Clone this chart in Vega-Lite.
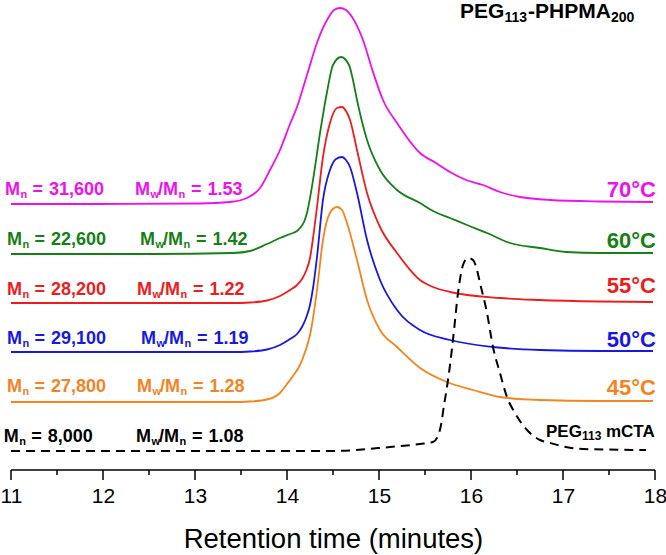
{
  "$schema": "https://vega.github.io/schema/vega-lite/v6.json",
  "width": 644,
  "height": 480,
  "autosize": {"type": "none"},
  "padding": {"left": 11, "right": 11, "top": 0, "bottom": 75},
  "config": {"view": {"stroke": null}, "font": "Liberation Sans"},
  "datasets": {
    "curves": [
      {"s":"70","t":11.0,"y":266},{"s":"70","t":11.967,"y":266},{"s":"70","t":13.054,"y":266.5},{"s":"70","t":13.38,"y":268},{"s":"70","t":13.565,"y":272},{"s":"70","t":13.707,"y":282},{"s":"70","t":13.815,"y":300},{"s":"70","t":13.924,"y":320},{"s":"70","t":14.033,"y":346},{"s":"70","t":14.109,"y":363},{"s":"70","t":14.217,"y":395},{"s":"70","t":14.337,"y":430},{"s":"70","t":14.435,"y":450},{"s":"70","t":14.511,"y":460},{"s":"70","t":14.576,"y":462},{"s":"70","t":14.641,"y":460},{"s":"70","t":14.707,"y":453},{"s":"70","t":14.826,"y":430},{"s":"70","t":14.935,"y":398},{"s":"70","t":15.043,"y":370},{"s":"70","t":15.196,"y":347},{"s":"70","t":15.446,"y":317},{"s":"70","t":15.62,"y":307},{"s":"70","t":15.772,"y":298},{"s":"70","t":15.946,"y":290},{"s":"70","t":16.13,"y":285},{"s":"70","t":16.315,"y":278},{"s":"70","t":16.533,"y":273},{"s":"70","t":16.859,"y":270},{"s":"70","t":17.402,"y":268.5},{"s":"70","t":17.978,"y":268},
      {"s":"60","t":11.0,"y":216},{"s":"60","t":12.511,"y":216},{"s":"60","t":13.413,"y":217},{"s":"60","t":13.598,"y":219},{"s":"60","t":13.783,"y":226},{"s":"60","t":13.924,"y":232},{"s":"60","t":14.033,"y":236},{"s":"60","t":14.109,"y":239},{"s":"60","t":14.141,"y":242},{"s":"60","t":14.185,"y":248},{"s":"60","t":14.217,"y":257},{"s":"60","t":14.25,"y":272},{"s":"60","t":14.283,"y":290},{"s":"60","t":14.359,"y":337},{"s":"60","t":14.435,"y":378},{"s":"60","t":14.5,"y":405},{"s":"60","t":14.587,"y":413},{"s":"60","t":14.674,"y":405},{"s":"60","t":14.717,"y":390},{"s":"60","t":14.761,"y":370},{"s":"60","t":14.87,"y":330},{"s":"60","t":15.011,"y":300},{"s":"60","t":15.196,"y":280},{"s":"60","t":15.446,"y":267},{"s":"60","t":15.587,"y":259},{"s":"60","t":15.772,"y":252},{"s":"60","t":15.957,"y":245},{"s":"60","t":16.174,"y":237},{"s":"60","t":16.424,"y":227},{"s":"60","t":16.75,"y":222},{"s":"60","t":17.033,"y":218},{"s":"60","t":17.402,"y":217},{"s":"60","t":17.978,"y":217},
      {"s":"55","t":11.0,"y":167},{"s":"55","t":13.413,"y":167},{"s":"55","t":13.598,"y":167.5},{"s":"55","t":13.783,"y":169.5},{"s":"55","t":13.924,"y":174},{"s":"55","t":14.033,"y":180},{"s":"55","t":14.109,"y":185},{"s":"55","t":14.163,"y":191},{"s":"55","t":14.207,"y":199},{"s":"55","t":14.25,"y":212},{"s":"55","t":14.283,"y":232},{"s":"55","t":14.326,"y":263},{"s":"55","t":14.391,"y":313},{"s":"55","t":14.467,"y":347},{"s":"55","t":14.543,"y":362},{"s":"55","t":14.598,"y":363},{"s":"55","t":14.641,"y":359},{"s":"55","t":14.685,"y":350},{"s":"55","t":14.761,"y":320},{"s":"55","t":14.87,"y":277},{"s":"55","t":15.011,"y":243},{"s":"55","t":15.196,"y":217},{"s":"55","t":15.446,"y":190},{"s":"55","t":15.587,"y":183},{"s":"55","t":15.772,"y":178},{"s":"55","t":16.315,"y":172},{"s":"55","t":16.75,"y":170},{"s":"55","t":17.402,"y":168.5},{"s":"55","t":17.978,"y":168},
      {"s":"50","t":11.0,"y":118},{"s":"50","t":13.413,"y":118},{"s":"50","t":13.598,"y":118.5},{"s":"50","t":13.783,"y":120.5},{"s":"50","t":13.924,"y":125},{"s":"50","t":14.033,"y":131},{"s":"50","t":14.109,"y":136},{"s":"50","t":14.163,"y":143},{"s":"50","t":14.207,"y":152},{"s":"50","t":14.25,"y":165},{"s":"50","t":14.283,"y":182},{"s":"50","t":14.326,"y":213},{"s":"50","t":14.391,"y":270},{"s":"50","t":14.467,"y":300},{"s":"50","t":14.533,"y":311},{"s":"50","t":14.598,"y":313},{"s":"50","t":14.641,"y":310},{"s":"50","t":14.685,"y":303},{"s":"50","t":14.761,"y":277},{"s":"50","t":14.87,"y":230},{"s":"50","t":15.011,"y":190},{"s":"50","t":15.196,"y":160},{"s":"50","t":15.446,"y":140},{"s":"50","t":15.772,"y":130},{"s":"50","t":16.239,"y":123},{"s":"50","t":16.75,"y":120},{"s":"50","t":17.402,"y":119},{"s":"50","t":17.978,"y":119},
      {"s":"45","t":11.0,"y":68},{"s":"45","t":13.413,"y":68},{"s":"45","t":13.598,"y":68.5},{"s":"45","t":13.783,"y":70.5},{"s":"45","t":13.924,"y":77},{"s":"45","t":14.0,"y":86},{"s":"45","t":14.065,"y":94},{"s":"45","t":14.141,"y":105},{"s":"45","t":14.196,"y":118},{"s":"45","t":14.25,"y":135},{"s":"45","t":14.283,"y":152},{"s":"45","t":14.326,"y":180},{"s":"45","t":14.391,"y":230},{"s":"45","t":14.467,"y":257},{"s":"45","t":14.543,"y":263},{"s":"45","t":14.598,"y":260},{"s":"45","t":14.652,"y":247},{"s":"45","t":14.761,"y":210},{"s":"45","t":14.87,"y":170},{"s":"45","t":15.011,"y":140},{"s":"45","t":15.196,"y":123},{"s":"45","t":15.446,"y":102},{"s":"45","t":15.739,"y":88},{"s":"45","t":16.022,"y":80},{"s":"45","t":16.315,"y":73},{"s":"45","t":16.75,"y":70},{"s":"45","t":17.402,"y":69},{"s":"45","t":17.978,"y":69}
    ],
    "ref": [
      {"s":"ref","t":11.0,"y":19},{"s":"ref","t":13.054,"y":19},{"s":"ref","t":14.5,"y":19},{"s":"ref","t":15.12,"y":23},{"s":"ref","t":15.446,"y":26},{"s":"ref","t":15.587,"y":28},{"s":"ref","t":15.641,"y":34},{"s":"ref","t":15.674,"y":45},{"s":"ref","t":15.707,"y":65},{"s":"ref","t":15.739,"y":83},{"s":"ref","t":15.772,"y":105},{"s":"ref","t":15.804,"y":130},{"s":"ref","t":15.859,"y":177},{"s":"ref","t":15.913,"y":205},{"s":"ref","t":15.967,"y":212},{"s":"ref","t":16.022,"y":210},{"s":"ref","t":16.065,"y":200},{"s":"ref","t":16.098,"y":187},{"s":"ref","t":16.174,"y":157},{"s":"ref","t":16.239,"y":123},{"s":"ref","t":16.315,"y":97},{"s":"ref","t":16.391,"y":73},{"s":"ref","t":16.478,"y":57},{"s":"ref","t":16.609,"y":40},{"s":"ref","t":16.75,"y":30},{"s":"ref","t":16.859,"y":27},{"s":"ref","t":17.033,"y":23},{"s":"ref","t":17.217,"y":21},{"s":"ref","t":17.902,"y":20}
    ],
    "major": [
      {"v":11},{"v":12},{"v":13},{"v":14},{"v":15},{"v":16},{"v":17},{"v":18}
    ],
    "minor": [
      {"v":11.5},{"v":12.5},{"v":13.5},{"v":14.5},{"v":15.5},{"v":16.5},{"v":17.5}
    ],
    "labels": [
      {"s":"70","mn":"31,600","pdi":"1.53","x1":10.935,"x2":12.348,"y":275},
      {"s":"60","mn":"22,600","pdi":"1.42","x1":10.957,"x2":12.402,"y":225},
      {"s":"55","mn":"28,200","pdi":"1.22","x1":10.957,"x2":12.37,"y":175},
      {"s":"50","mn":"29,100","pdi":"1.19","x1":10.957,"x2":12.413,"y":126},
      {"s":"45","mn":"27,800","pdi":"1.28","x1":10.957,"x2":12.37,"y":78},
      {"s":"ref","mn":"8,000","pdi":"1.08","x1":10.92,"x2":12.359,"y":28}
    ],
    "temps": [
      {"s":"70","label":"70°C","y":273.3},
      {"s":"60","label":"60°C","y":221.7},
      {"s":"55","label":"55°C","y":176.7},
      {"s":"50","label":"50°C","y":123.3},
      {"s":"45","label":"45°C","y":75}
    ],
    "titles": [
      {"s":"ref","x":15.88,"y":452,"a":"PEG","b":"113","c":"-PHPMA","d":"200"}
    ],
    "cta": [
      {"s":"ref","x":16.815,"y":33,"a":"PEG","b":"113","c":"mCTA"}
    ]
  },
  "layer": [
    {
      "data": {"name": "curves"},
      "mark": {"type": "line", "interpolate": "monotone", "strokeWidth": 1.8},
      "encoding": {
        "x": {"field": "t", "type": "quantitative", "scale": {"domain": [11, 18], "nice": false, "zero": false},
          "axis": {"orient": "bottom", "values": [11,12,13,14,15,16,17,18], "format": "d", "ticks": false, "domain": false,
            "grid": false,
            "labelFont": "Liberation Sans", "labelFontSize": 21, "labelColor": "#000", "labelPadding": 5, "labelFlush": false, "labelOverlap": false,
            "title": "Retention time (minutes)", "titleFont": "Liberation Sans", "titleFontSize": 27.5, "titleFontWeight": "normal", "titleColor": "#000", "titlePadding": 19}},
        "y": {"field": "y", "type": "quantitative", "scale": {"domain": [-10, 470], "nice": false, "zero": false}, "axis": null},
        "color": {"field": "s", "type": "nominal", "legend": null,
          "scale": {"domain": ["70","60","55","50","45","ref"], "range": ["#EE11EE","#167F16","#EE1C1C","#1818E0","#F5841F","#000000"]}}
      }
    },
    {
      "data": {"values": [{"a": 11, "b": 18}]},
      "mark": {"type": "rule", "color": "#000", "strokeWidth": 1.5},
      "encoding": {
        "x": {"field": "a", "type": "quantitative"},
        "x2": {"field": "b"},
        "y": {"datum": 0, "type": "quantitative"}
      }
    },
    {
      "data": {"name": "major"},
      "mark": {"type": "rule", "color": "#000", "strokeWidth": 1.5},
      "encoding": {
        "x": {"field": "v", "type": "quantitative"},
        "y": {"datum": 0, "type": "quantitative"},
        "y2": {"datum": -10}
      }
    },
    {
      "data": {"name": "minor"},
      "mark": {"type": "rule", "color": "#000", "strokeWidth": 1.5},
      "encoding": {
        "x": {"field": "v", "type": "quantitative"},
        "y": {"datum": 0, "type": "quantitative"},
        "y2": {"datum": -5}
      }
    },
    {
      "data": {"name": "ref"},
      "mark": {"type": "line", "interpolate": "monotone", "strokeWidth": 2, "strokeDash": [9, 6], "color": "#000"},
      "encoding": {
        "x": {"field": "t", "type": "quantitative"},
        "y": {"field": "y", "type": "quantitative"}
      }
    },
    {
      "data": {"name": "labels"},
      "encoding": {"y": {"field": "y", "type": "quantitative"}, "color": {"field": "s", "type": "nominal", "legend": null}},
      "layer": [
        {"mark": {"type": "text", "align": "left", "baseline": "alphabetic", "fontSize": 18, "fontWeight": "bold"},
          "encoding": {"x": {"field": "x1", "type": "quantitative"}, "text": {"value": "M"}}},
        {"mark": {"type": "text", "align": "left", "baseline": "alphabetic", "fontSize": 11, "fontWeight": "bold", "dx": 15.5, "dy": 3},
          "encoding": {"x": {"field": "x1", "type": "quantitative"}, "text": {"value": "n"}}},
        {"mark": {"type": "text", "align": "left", "baseline": "alphabetic", "fontSize": 18, "fontWeight": "bold", "dx": 27.5},
          "encoding": {"x": {"field": "x1", "type": "quantitative"}, "text": {"value": "="}}},
        {"mark": {"type": "text", "align": "left", "baseline": "alphabetic", "fontSize": 18, "fontWeight": "bold", "dx": 44},
          "encoding": {"x": {"field": "x1", "type": "quantitative"}, "text": {"field": "mn"}}},
        {"mark": {"type": "text", "align": "left", "baseline": "alphabetic", "fontSize": 18, "fontWeight": "bold"},
          "encoding": {"x": {"field": "x2", "type": "quantitative"}, "text": {"value": "M"}}},
        {"mark": {"type": "text", "align": "left", "baseline": "alphabetic", "fontSize": 11, "fontWeight": "bold", "dx": 15.5, "dy": 3},
          "encoding": {"x": {"field": "x2", "type": "quantitative"}, "text": {"value": "w"}}},
        {"mark": {"type": "text", "align": "left", "baseline": "alphabetic", "fontSize": 18, "fontWeight": "bold", "dx": 23},
          "encoding": {"x": {"field": "x2", "type": "quantitative"}, "text": {"value": "/M"}}},
        {"mark": {"type": "text", "align": "left", "baseline": "alphabetic", "fontSize": 11, "fontWeight": "bold", "dx": 43.5, "dy": 3},
          "encoding": {"x": {"field": "x2", "type": "quantitative"}, "text": {"value": "n"}}},
        {"mark": {"type": "text", "align": "left", "baseline": "alphabetic", "fontSize": 18, "fontWeight": "bold", "dx": 56},
          "encoding": {"x": {"field": "x2", "type": "quantitative"}, "text": {"value": "="}}},
        {"mark": {"type": "text", "align": "left", "baseline": "alphabetic", "fontSize": 18, "fontWeight": "bold", "dx": 72.5},
          "encoding": {"x": {"field": "x2", "type": "quantitative"}, "text": {"field": "pdi"}}}
      ]
    },
    {"data": {"name": "temps"}, "mark": {"type": "text", "align": "right", "baseline": "alphabetic", "fontSize": 22, "fontWeight": "bold"},
      "encoding": {"x": {"datum": 18.011, "type": "quantitative"}, "y": {"field": "y", "type": "quantitative"}, "text": {"field": "label"},
        "color": {"field": "s", "type": "nominal", "legend": null}}},
    {
      "data": {"name": "titles"},
      "encoding": {"x": {"field": "x", "type": "quantitative"}, "y": {"field": "y", "type": "quantitative"}},
      "layer": [
        {"mark": {"type": "text", "align": "left", "baseline": "alphabetic", "fontSize": 21, "fontWeight": "bold", "color": "#000"}, "encoding": {"text": {"field": "a"}}},
        {"mark": {"type": "text", "align": "left", "baseline": "alphabetic", "fontSize": 14, "fontWeight": "bold", "dx": 44.5, "dy": 4, "color": "#000"}, "encoding": {"text": {"field": "b"}}},
        {"mark": {"type": "text", "align": "left", "baseline": "alphabetic", "fontSize": 21, "fontWeight": "bold", "dx": 68, "color": "#000"}, "encoding": {"text": {"field": "c"}}},
        {"mark": {"type": "text", "align": "left", "baseline": "alphabetic", "fontSize": 14, "fontWeight": "bold", "dx": 151, "dy": 4, "color": "#000"}, "encoding": {"text": {"field": "d"}}}
      ]
    },
    {
      "data": {"name": "cta"},
      "encoding": {"x": {"field": "x", "type": "quantitative"}, "y": {"field": "y", "type": "quantitative"}},
      "layer": [
        {"mark": {"type": "text", "align": "left", "baseline": "alphabetic", "fontSize": 17, "fontWeight": "bold", "color": "#000"}, "encoding": {"text": {"field": "a"}}},
        {"mark": {"type": "text", "align": "left", "baseline": "alphabetic", "fontSize": 12, "fontWeight": "bold", "dx": 36, "dy": 3, "color": "#000"}, "encoding": {"text": {"field": "b"}}},
        {"mark": {"type": "text", "align": "left", "baseline": "alphabetic", "fontSize": 17, "fontWeight": "bold", "dx": 60, "color": "#000"}, "encoding": {"text": {"field": "c"}}}
      ]
    }
  ]
}
